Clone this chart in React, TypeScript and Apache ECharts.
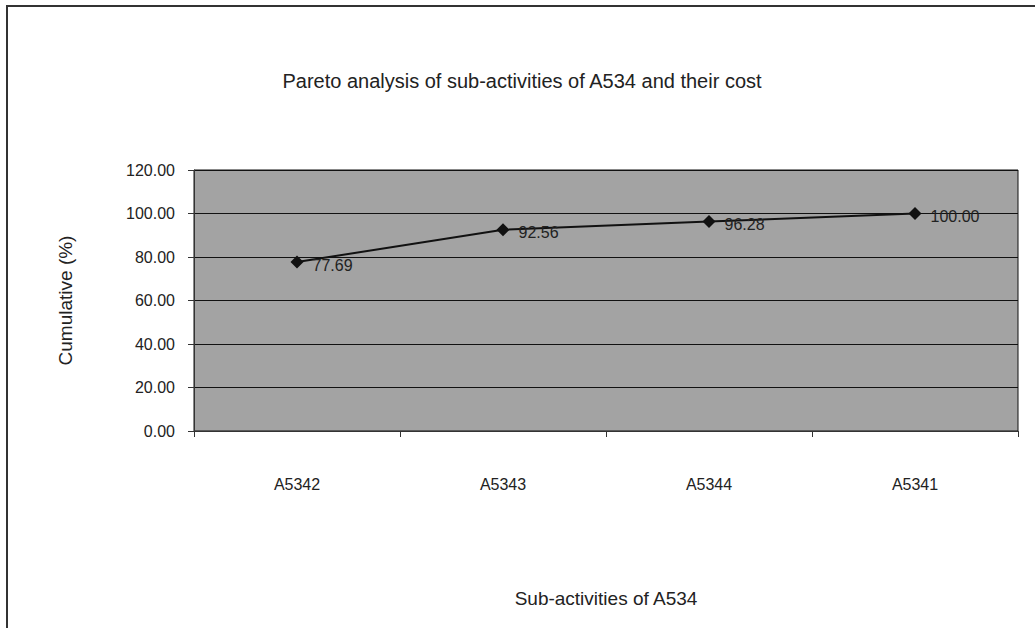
import React, { useEffect, useRef } from "react";
import * as echarts from "echarts";

const categories = ["A5342", "A5343", "A5344", "A5341"];
const cumulative = [77.69, 92.56, 96.28, 100.0];
const titleText = "Pareto analysis of sub-activities of A534 and their cost";
const yName = "Cumulative (%)";
const xName = "Sub-activities of A534";

export default function App() {
  const ref = useRef<HTMLDivElement>(null);
  useEffect(() => {
    const chart = echarts.init(ref.current!, null, { renderer: "svg" });
    chart.setOption({
      animation: false,
      backgroundColor: "#ffffff",
      textStyle: { fontFamily: "Liberation Sans, Arial, sans-serif" },
      title: {
        text: titleText,
        left: 517,
        textAlign: "center",
        top: 66,
        textStyle: { fontSize: 20, fontWeight: "normal", color: "#222" },
      },
      graphic: [
        { type: "line", shape: { x1: 6, y1: 6, x2: 1035, y2: 6 }, style: { stroke: "#333", lineWidth: 2 } },
        { type: "line", shape: { x1: 7, y1: 5, x2: 7, y2: 628 }, style: { stroke: "#333", lineWidth: 2 } },
      ],
      grid: {
        left: 194,
        right: 17,
        top: 170,
        bottom: 197,
        show: true,
        backgroundColor: "#a3a3a3",
        borderColor: "#111",
        borderWidth: 1,
      },
      xAxis: {
        type: "category",
        data: categories,
        name: xName,
        nameLocation: "middle",
        nameGap: 158,
        nameTextStyle: { fontSize: 19, color: "#222" },
        axisLine: { lineStyle: { color: "#333" } },
        axisTick: { show: true, alignWithLabel: false, length: 6, lineStyle: { color: "#333" } },
        axisLabel: { fontSize: 16, color: "#222", margin: 45 },
      },
      yAxis: {
        type: "value",
        min: 0,
        max: 120,
        interval: 20,
        name: yName,
        nameLocation: "middle",
        nameGap: 119,
        nameTextStyle: { fontSize: 19, color: "#222" },
        axisLine: { show: true, lineStyle: { color: "#333" } },
        axisTick: { show: true, length: 6, lineStyle: { color: "#333" } },
        axisLabel: { fontSize: 16, color: "#222", margin: 19, formatter: (v: number) => v.toFixed(2) },
        splitLine: { lineStyle: { color: "#111", width: 1 } },
      },
      series: [
        {
          type: "line",
          data: cumulative,
          symbol: "diamond",
          symbolSize: 13,
          lineStyle: { color: "#111", width: 2 },
          itemStyle: { color: "#111" },
          label: {
            show: true,
            position: "right",
            distance: 9,
            offset: [0, 3],
            fontSize: 16,
            color: "#222",
            formatter: (p: any) => Number(p.value).toFixed(2),
          },
        },
      ],
    });
    return () => chart.dispose();
  }, []);
  return (
    <div
      ref={ref}
      style={{ position: "fixed", left: 0, top: 0, width: 1035, height: 628 }}
    />
  );
}
